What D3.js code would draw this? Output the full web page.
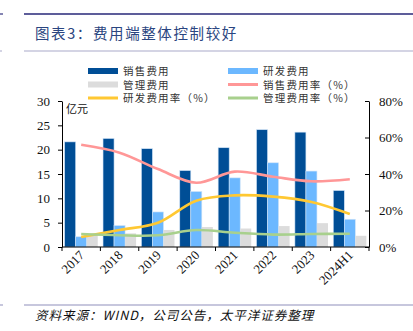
<!DOCTYPE html>
<html>
<head>
<meta charset="utf-8">
<script src="https://cdn.jsdelivr.net/npm/d3@7"></script>
<style>
  body { margin: 0; background: #fff; }
  svg text { fill: #111; }
</style>
</head>
<body>
<svg id="chart" width="413" height="331"></svg>
<script>
// 费用数据（亿元）与费用率（%）
var years = ['2017', '2018', '2019', '2020', '2021', '2022', '2023', '2024H1'];
var salesCost = [21.6, 22.3, 20.2, 15.7, 20.4, 24.1, 23.6, 11.6];
var rdCost = [2.1, 4.4, 7.2, 11.4, 14.2, 17.3, 15.6, 5.7];
var adminCost = [2.4, 2.8, 3.5, 4.1, 3.8, 4.3, 4.9, 2.3];
var salesRate = [56, 51.7, 42.7, 35.2, 41.3, 38.5, 36, 37.1];
var rdRate = [5.5, 9.3, 13.3, 25.4, 28.3, 27.6, 24.7, 18.1];
var adminRate = [7.1, 6.4, 6.4, 9.3, 7.8, 6.8, 7.1, 7.3];
var leftTicks = [0, 5, 10, 15, 20, 25, 30];
var rightTicks = [0, 20, 40, 60, 80];

var svg = d3.select('#chart');
var serif = '"Liberation Serif", "Times New Roman", serif';
var cjk = '"Noto Sans CJK SC", sans-serif';

var plotL = 62, plotR = 369, plotT = 101, plotB = 247;

// 页眉页脚的装饰线
svg.append('line').attr('x1', 24).attr('x2', 413).attr('y1', 14).attr('y2', 14)
    .attr('stroke', '#5d5d9a').attr('stroke-width', 2);
svg.append('line').attr('x1', 0).attr('x2', 3).attr('y1', 14).attr('y2', 14)
    .attr('stroke', '#5d5d9a').attr('stroke-width', 1.5);
svg.append('line').attr('x1', 24).attr('x2', 413).attr('y1', 51).attr('y2', 51)
    .attr('stroke', '#a9a9c9').attr('stroke-width', 1);
svg.append('line').attr('x1', 0).attr('x2', 2).attr('y1', 51).attr('y2', 51)
    .attr('stroke', '#a9a9c9').attr('stroke-width', 1);
svg.append('line').attr('x1', 24).attr('x2', 413).attr('y1', 305).attr('y2', 305)
    .attr('stroke', '#8f8fbb').attr('stroke-width', 1.2);
svg.append('line').attr('x1', 0).attr('x2', 3).attr('y1', 305).attr('y2', 305)
    .attr('stroke', '#8f8fbb').attr('stroke-width', 1);

svg.append('text').attr('x', 35).attr('y', 39)
    .style('font-family', cjk).style('font-size', '14.5px').style('letter-spacing', '1.6px')
    .style('fill', '#2a4580')
    .text('图表3：费用端整体控制较好');

svg.append('text').attr('x', 35).attr('y', 320)
    .style('font-family', cjk).style('font-size', '12.5px').style('font-style', 'italic')
    .style('letter-spacing', '1px')
    .text('资料来源：WIND，公司公告，太平洋证券整理');

// 比例尺
var x = d3.scaleBand().domain(years).range([plotL, plotR]).paddingInner(0).paddingOuter(0);
var inner = d3.scaleBand().domain(['sales', 'rd', 'admin']).range([0, x.bandwidth()])
    .paddingOuter(0.24).paddingInner(0);
var yL = d3.scaleLinear().domain([0, 30]).range([plotB, plotT]);
var yR = d3.scaleLinear().domain([0, 80]).range([plotB, plotT]);

var barColors = { sales: '#004e96', rd: '#6cb8ff', admin: '#dcdcdc' };
var barData = { sales: salesCost, rd: rdCost, admin: adminCost };

var groups = svg.append('g').selectAll('g').data(years).enter().append('g')
    .attr('transform', function(d) { return 'translate(' + x(d) + ',0)'; });

['sales', 'rd', 'admin'].forEach(function(k) {
    groups.append('rect')
        .attr('x', inner(k))
        .attr('width', inner.bandwidth())
        .attr('y', function(d, i) { return yL(barData[k][i]); })
        .attr('height', function(d, i) { return plotB - yL(barData[k][i]); })
        .attr('fill', barColors[k])
        .attr('stroke', k === 'admin' ? 'none' : '#cfe3f7')
        .attr('stroke-width', 0.6);
});

// 费用率折线
var line = d3.line()
    .x(function(d, i) { return x(years[i]) + x.bandwidth() / 2; })
    .y(function(d) { return yR(d); })
    .curve(d3.curveCatmullRom.alpha(0.5));

[[salesRate, '#ff9797'], [rdRate, '#ffc832'], [adminRate, '#a8d08d']].forEach(function(s) {
    svg.append('path').datum(s[0]).attr('d', line)
        .attr('fill', 'none').attr('stroke', s[1]).attr('stroke-width', 2.6);
});

// 坐标轴
var axisL = svg.append('g').attr('transform', 'translate(' + plotL + ',0)')
    .call(d3.axisLeft(yL).tickValues(leftTicks).tickSize(4).tickPadding(8).tickSizeOuter(0));
var axisR = svg.append('g').attr('transform', 'translate(' + plotR + ',0)')
    .call(d3.axisLeft(yR).tickValues(rightTicks).tickSize(4).tickSizeOuter(0)
        .tickFormat(function(d) { return d + '%'; }));
axisR.selectAll('text').attr('x', 10).style('text-anchor', 'start');

var xAxis = svg.append('g').attr('transform', 'translate(0,' + plotB + ')');
xAxis.append('line').attr('x1', plotL).attr('x2', plotR).attr('stroke', '#000');
xAxis.selectAll('line.tk').data(years.concat(['end'])).enter().append('line')
    .attr('class', 'tk')
    .attr('x1', function(d, i) { return plotL + i * x.bandwidth(); })
    .attr('x2', function(d, i) { return plotL + i * x.bandwidth(); })
    .attr('y1', 0).attr('y2', 4).attr('stroke', '#000');
xAxis.selectAll('text').data(years).enter().append('text')
    .attr('transform', function(d) {
        return 'translate(' + (x(d) + x.bandwidth() / 2 + 4) + ',9) rotate(-45)';
    })
    .style('text-anchor', 'end')
    .style('font-family', serif).style('font-size', '13px')
    .text(function(d) { return d; });

[axisL, axisR].forEach(function(a) {
    a.selectAll('text').style('font-family', serif).style('font-size', '13px').style('fill', '#111');
    a.selectAll('line, path').attr('stroke', '#000');
});

svg.append('text').attr('x', 66).attr('y', 113)
    .style('font-family', cjk).style('font-size', '11px')
    .text('亿元');

// 图例
var legend = [
    { name: '销售费用', color: '#004e96', type: 'bar', col: 0, row: 0 },
    { name: '研发费用', color: '#6cb8ff', type: 'bar', col: 1, row: 0 },
    { name: '管理费用', color: '#dcdcdc', type: 'bar', col: 0, row: 1 },
    { name: '销售费用率（%）', color: '#ff9797', type: 'line', col: 1, row: 1 },
    { name: '研发费用率（%）', color: '#ffc832', type: 'line', col: 0, row: 2 },
    { name: '管理费用率（%）', color: '#a8d08d', type: 'line', col: 1, row: 2 }
];
var lg = svg.append('g').selectAll('g').data(legend).enter().append('g')
    .attr('transform', function(d) {
        return 'translate(' + (d.col ? 228 : 88) + ',' + (71 + d.row * 13.5) + ')';
    });
lg.append('rect')
    .attr('x', 0).attr('width', 30)
    .attr('y', function(d) { return d.type === 'bar' ? -3 : -1.5; })
    .attr('height', function(d) { return d.type === 'bar' ? 6 : 3; })
    .attr('fill', function(d) { return d.color; });
lg.append('text').attr('x', 35).attr('y', 4)
    .style('font-family', cjk).style('font-size', '10.5px').style('letter-spacing', '1.2px')
    .style('fill', '#333')
    .text(function(d) { return d.name; });
</script>
</body>
</html>
